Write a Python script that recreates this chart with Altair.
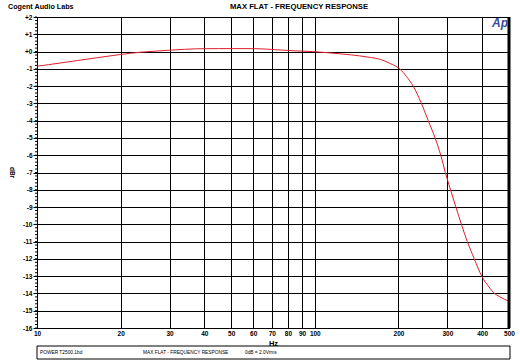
import altair as alt
import pandas as pd

# Frequency response
freq = [10, 11, 12.4, 14, 16.4, 18, 20, 23.5, 27, 30, 34, 37.6, 45, 50, 57, 63.5,
        70, 77, 85, 98, 110, 125, 145, 160, 172, 186, 202, 214, 226, 242, 256, 271,
        284, 295, 308, 322, 337, 354, 375, 399, 427, 440, 464, 500]
db = [-0.85, -0.76, -0.64, -0.52, -0.36, -0.27, -0.17, -0.04, 0.03, 0.08, 0.13, 0.16,
      0.17, 0.17, 0.17, 0.16, 0.12, 0.08, 0.04, 0.0, -0.06, -0.14, -0.25, -0.35, -0.45,
      -0.68, -1.0, -1.45, -2.0, -3.0, -4.0, -5.0, -6.0, -7.0, -8.0, -9.0, -10.0,
      -11.0, -12.0, -13.0, -13.7, -13.95, -14.2, -14.45]

x_ticks = [10, 20, 30, 40, 50, 60, 70, 80, 90, 100, 200, 300, 400, 500]
y_ticks = [2, 1, 0, -1, -2, -3, -4, -5, -6, -7, -8, -9, -10, -11, -12, -13, -14, -15, -16]
minor_ticks = [v / 5 for v in range(-80, 11)]

title_text = ["MAX FLAT - FREQUENCY RESPONSE"]
company = ["Cogent Audio Labs"]
footer = ["POWER T2500.1bd", "MAX FLAT - FREQUENCY RESPONSE", "0dB = 2.0Vrms"]

FONT = "Liberation Sans, Arial"

df = pd.DataFrame({"freq": freq, "db": db})

xscale = alt.Scale(type="log", domain=[10, 500], nice=False)
yscale = alt.Scale(domain=[-16, 2], nice=False)

xaxis = alt.Axis(values=x_ticks, grid=True, gridColor="black", gridWidth=1, gridOpacity=1,
                 domain=False, ticks=False, labelPadding=5, labelBaseline="middle",
                 labelFont=FONT, labelFontWeight="bold", labelFontSize=6.5, labelColor="black",
                 labelFlush=False, labelOverlap=False, format="d",
                 title="Hz", titleFont=FONT, titleFontSize=7.5, titleFontWeight="bold",
                 titleY=15, titleBaseline="middle", titleColor="black")
yaxis = alt.Axis(values=y_ticks, grid=True, gridColor="black", gridWidth=1, gridOpacity=1,
                 domain=False, tickSize=4, tickColor="black", labelPadding=1,
                 labelFont=FONT, labelFontWeight="bold", labelFontSize=6.5, labelColor="black",
                 labelOverlap=False, labelFlush=False,
                 labelExpr="datum.value > 0 ? '+' + datum.value : (datum.value == 0 ? '+0' : '-' + abs(datum.value))",
                 title="dBr", titleFont=FONT, titleFontSize=6.5, titleFontWeight="bold",
                 titleAngle=90, titleX=-26, titleY=155, titleAlign="center",
                 titleBaseline="middle", titleColor="black")

line = alt.Chart(df).mark_line(color="#dd1f2b", strokeWidth=1, interpolate="monotone").encode(
    x=alt.X("freq:Q", scale=xscale, axis=xaxis),
    y=alt.Y("db:Q", scale=yscale, axis=yaxis),
)

minor = alt.Chart(pd.DataFrame({"db": minor_ticks})).mark_rule(color="black", strokeWidth=1).encode(
    y=alt.Y("db:Q", scale=yscale, axis=yaxis), x=alt.value(-2), x2=alt.value(0)
)

right_border = alt.Chart(pd.DataFrame({"a": [0]})).mark_rule(color="black", strokeWidth=3).encode(
    x=alt.value(472), y=alt.value(0), y2=alt.value(311)
)

title = alt.Chart(pd.DataFrame({"t": title_text})).mark_text(
    font=FONT, fontSize=7.7, fontWeight="bold", color="black", align="center", baseline="middle"
).encode(x=alt.value(262), y=alt.value(-10), text="t:N")

comp = alt.Chart(pd.DataFrame({"t": company})).mark_text(
    font=FONT, fontSize=7.2, fontWeight="bold", color="black", align="left", baseline="middle"
).encode(x=alt.value(-29), y=alt.value(-10), text="t:N")

logo = alt.Chart(pd.DataFrame({"t": ["Ap"]})).mark_text(
    font="Liberation Sans, Arial", fontSize=12, fontWeight="bold", fontStyle="italic",
    color="#3a4aa0", align="right", baseline="middle"
).encode(x=alt.value(471), y=alt.value(6), text="t:N")

box = alt.Chart(pd.DataFrame({"a": [0]})).mark_rect(
    fillOpacity=0, stroke="black", strokeWidth=1
).encode(x=alt.value(0), x2=alt.value(473), y=alt.value(329), y2=alt.value(342))

foot_layers = []
for txt, px in zip(footer, [3, 106, 208]):
    foot_layers.append(
        alt.Chart(pd.DataFrame({"t": [txt]})).mark_text(
            font=FONT, fontSize=4.8, color="black", align="left", baseline="middle"
        ).encode(x=alt.value(px), y=alt.value(335.5), text="t:N")
    )

chart = alt.layer(line, minor, right_border, title, comp, logo, box, *foot_layers).properties(
    width=472, height=311,
    autosize=alt.AutoSizeParams(type="none"),
    padding={"left": 37, "top": 17, "right": 11, "bottom": 34},
    background="white",
).configure_view(stroke="black", strokeWidth=1)

chart.save("out.html", embed_options={"renderer": "svg", "actions": False})
